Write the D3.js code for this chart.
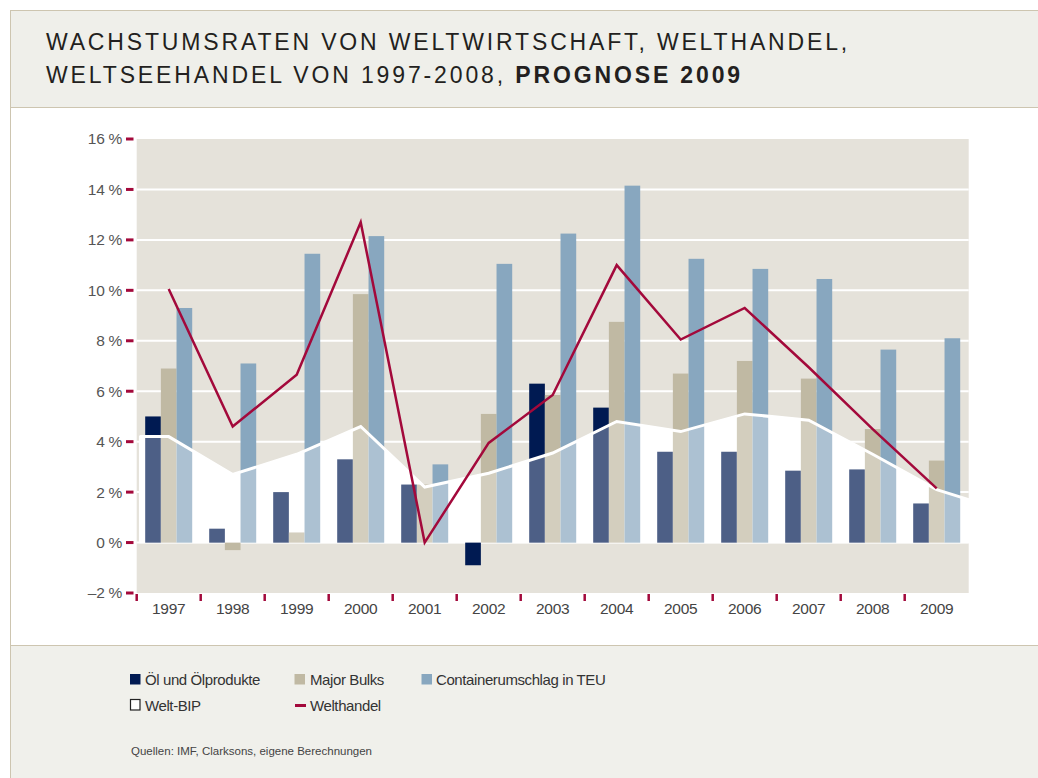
<!DOCTYPE html>
<html>
<head>
<meta charset="utf-8">
<script src="https://cdn.jsdelivr.net/npm/d3@7"></script>
<style>
  body { margin: 0; background: #fff; }
  svg { display: block; font-family: "Liberation Sans", Arial, sans-serif; }
</style>
</head>
<body>
<div id="chart"></div>
<script>
// Data (growth rates in %)
const years = ["1997", "1998", "1999", "2000", "2001", "2002", "2003", "2004", "2005", "2006", "2007", "2008", "2009"];
const oel = [5.0, 0.55, 2.0, 3.3, 2.3, -0.9, 6.3, 5.35, 3.6, 3.6, 2.85, 2.9, 1.55];
const bulks = [6.9, -0.3, 0.4, 9.85, 2.3, 5.1, 5.85, 8.75, 6.7, 7.2, 6.5, 4.5, 3.25];
const container = [9.3, 7.1, 11.45, 12.15, 3.1, 11.05, 12.25, 14.15, 11.25, 10.85, 10.45, 7.65, 8.1];
const weltBip = [4.2, 2.7, 3.5, 4.6, 2.2, 2.75, 3.55, 4.8, 4.4, 5.1, 4.85, 3.5, 2.1];
const weltBipEdges = [4.2, 1.7]; // area value at left and right plot edge
const welthandel = [10.05, 4.6, 6.65, 12.7, 0.0, 3.95, 5.85, 11.0, 8.05, 9.3, 6.95, 4.5, 2.15];
const yTicks = [-2, 0, 2, 4, 6, 8, 10, 12, 14, 16];
const gridTicks = [0, 2, 4, 6, 8, 10, 12, 14];

const series = ["oel", "bulks", "container"];
const seriesValues = { oel: oel, bulks: bulks, container: container };
const colors = { oel: "#001a52", bulks: "#c0b9a3", container: "#88a7bf" };
const red = "#a3093b";
const borderColor = "#cdc5b0";

const W = 1038, H = 778;

const svg = d3.select("#chart")
  .append("svg")
  .attr("width", W)
  .attr("height", H);

// header and legend panels
svg.append("rect")
  .attr("x", 10.5).attr("y", 10.5)
  .attr("width", W).attr("height", 97)
  .attr("fill", "#efefea")
  .attr("stroke", borderColor);

svg.append("rect")
  .attr("x", 10.5).attr("y", 645.5)
  .attr("width", W).attr("height", 140)
  .attr("fill", "#f0f0eb")
  .attr("stroke", borderColor);

svg.append("line")
  .attr("x1", 10.5).attr("x2", 10.5)
  .attr("y1", 107).attr("y2", 646)
  .attr("stroke", borderColor);

// title, spacing stretched to the measured width
function fitSpacing(sel, target) {
  const n = sel.text().length;
  sel.style("letter-spacing", "0px");
  const len = sel.node().getComputedTextLength();
  sel.style("letter-spacing", ((target - len) / n) + "px");
}

const title1 = svg.append("text")
  .attr("x", 46).attr("y", 49.5)
  .style("font-size", "23px")
  .attr("fill", "#231f20")
  .text("WACHSTUMSRATEN VON WELTWIRTSCHAFT, WELTHANDEL,");
fitSpacing(title1, 804);

const title2 = svg.append("text")
  .attr("x", 46).attr("y", 83)
  .style("font-size", "23px")
  .attr("fill", "#231f20");
title2.append("tspan").text("WELTSEEHANDEL VON 1997-2008, ");
title2.append("tspan").style("font-weight", "bold").text("PROGNOSE 2009");
fitSpacing(title2, 697);

// scales
const x = d3.scaleBand()
  .domain(years)
  .range([136.7, 968.7])
  .paddingInner(0.2656)
  .paddingOuter(0.1328);

const x1 = d3.scaleBand()
  .domain(series)
  .range([0, x.bandwidth()]);

const y = d3.scaleLinear()
  .domain([-2, 16])
  .range([593, 139]);

const cx = (d) => x(d) + x.bandwidth() / 2;
const gap = (x.step() - x.bandwidth()) / 2;

// plot background
svg.append("rect")
  .attr("x", x.range()[0])
  .attr("y", y(16))
  .attr("width", x.range()[1] - x.range()[0])
  .attr("height", y(-2) - y(16))
  .attr("fill", "#e5e2da");

svg.append("g")
  .selectAll("line")
  .data(gridTicks)
  .enter().append("line")
  .attr("x1", x.range()[0])
  .attr("x2", x.range()[1])
  .attr("y1", (d) => y(d))
  .attr("y2", (d) => y(d))
  .attr("stroke", "#fff")
  .attr("stroke-width", 2);

// Welt-BIP area
const bipPoints = [{ px: x.range()[0] + 3, v: weltBipEdges[0] }]
  .concat(years.map((d, i) => ({ px: cx(d), v: weltBip[i] })))
  .concat([{ px: x.range()[1], v: weltBipEdges[1] }]);

const area = d3.area()
  .x((d) => d.px)
  .y0(y(0))
  .y1((d) => y(d.v));

svg.append("path")
  .datum(bipPoints)
  .attr("fill", "#fff")
  .attr("stroke", "#fff")
  .attr("stroke-width", 1.5)
  .attr("d", area);

// bars
const groups = svg.append("g")
  .selectAll("g")
  .data(years)
  .enter().append("g")
  .attr("transform", (d) => `translate(${x(d)},0)`);

groups.selectAll("rect")
  .data((d, i) => series.map((s) => ({ key: s, value: seriesValues[s][i] })))
  .enter().append("rect")
  .attr("x", (d) => x1(d.key))
  .attr("width", x1.bandwidth())
  .attr("y", (d) => y(Math.max(0, d.value)))
  .attr("height", (d) => Math.abs(y(d.value) - y(0)))
  .attr("fill", (d) => colors[d.key]);

// white veil over the bars inside the BIP area
svg.append("path")
  .datum(bipPoints)
  .attr("fill", "#fff")
  .attr("fill-opacity", 0.3)
  .attr("d", area);

svg.append("path")
  .datum(bipPoints)
  .attr("fill", "none")
  .attr("stroke", "#fff")
  .attr("stroke-width", 3)
  .attr("d", d3.line().x((d) => d.px).y((d) => y(d.v)));

// Welthandel line
svg.append("path")
  .datum(welthandel)
  .attr("fill", "none")
  .attr("stroke", red)
  .attr("stroke-width", 2.5)
  .attr("d", d3.line()
    .x((d, i) => cx(years[i]))
    .y((d) => y(d)));

// y axis: red ticks and labels
const yAxis = svg.append("g");
yAxis.selectAll("rect")
  .data(yTicks)
  .enter().append("rect")
  .attr("x", 126)
  .attr("y", (d) => y(d) - 1.5)
  .attr("width", 7.5)
  .attr("height", 3)
  .attr("fill", red);

yAxis.selectAll("text")
  .data(yTicks)
  .enter().append("text")
  .attr("x", 122)
  .attr("y", (d) => y(d))
  .attr("dy", "0.35em")
  .attr("text-anchor", "end")
  .style("font-size", "15.5px")
  .style("letter-spacing", "-0.3px")
  .attr("fill", "#555")
  .text((d) => (d < 0 ? "\u2013" + Math.abs(d) : d) + " %");

// x axis
const xAxis = svg.append("g");
xAxis.selectAll("line")
  .data(years)
  .enter().append("line")
  .attr("x1", (d) => x(d) - gap)
  .attr("x2", (d) => x(d) - gap)
  .attr("y1", y(-2) + 1)
  .attr("y2", y(-2) + 8)
  .attr("stroke", red)
  .attr("stroke-width", 2.5);

xAxis.selectAll("text")
  .data(years)
  .enter().append("text")
  .attr("x", (d) => cx(d))
  .attr("y", y(-2) + 16)
  .attr("dy", "0.35em")
  .attr("text-anchor", "middle")
  .style("font-size", "15.5px")
  .style("letter-spacing", "-0.3px")
  .attr("fill", "#444")
  .text((d) => d);

// legend
const legend = svg.append("g")
  .style("font-size", "15px")
  .style("letter-spacing", "-0.4px")
  .attr("fill", "#333");

legend.append("rect").attr("x", 130).attr("y", 674).attr("width", 10.5).attr("height", 10.5).attr("fill", colors.oel);
legend.append("text").attr("x", 145).attr("y", 680).attr("dy", "0.35em").text("Öl und Ölprodukte");

legend.append("rect").attr("x", 294.5).attr("y", 674).attr("width", 10.5).attr("height", 10.5).attr("fill", colors.bulks);
legend.append("text").attr("x", 310).attr("y", 680).attr("dy", "0.35em").text("Major Bulks");

legend.append("rect").attr("x", 421.5).attr("y", 674).attr("width", 10.5).attr("height", 10.5).attr("fill", colors.container);
legend.append("text").attr("x", 436).attr("y", 680).attr("dy", "0.35em").text("Containerumschlag in TEU");

legend.append("rect").attr("x", 130.5).attr("y", 699.5).attr("width", 9.5).attr("height", 10.5)
  .attr("fill", "#fff").attr("stroke", "#222").attr("stroke-width", 1.2);
legend.append("text").attr("x", 145).attr("y", 705.5).attr("dy", "0.35em").text("Welt-BIP");

legend.append("rect").attr("x", 295).attr("y", 704).attr("width", 11).attr("height", 3).attr("fill", red);
legend.append("text").attr("x", 310).attr("y", 705.5).attr("dy", "0.35em").text("Welthandel");

svg.append("text")
  .attr("x", 131).attr("y", 750.5)
  .attr("dy", "0.35em")
  .style("font-size", "11.5px")
  .attr("fill", "#444")
  .text("Quellen: IMF, Clarksons, eigene Berechnungen");
</script>
</body>
</html>
